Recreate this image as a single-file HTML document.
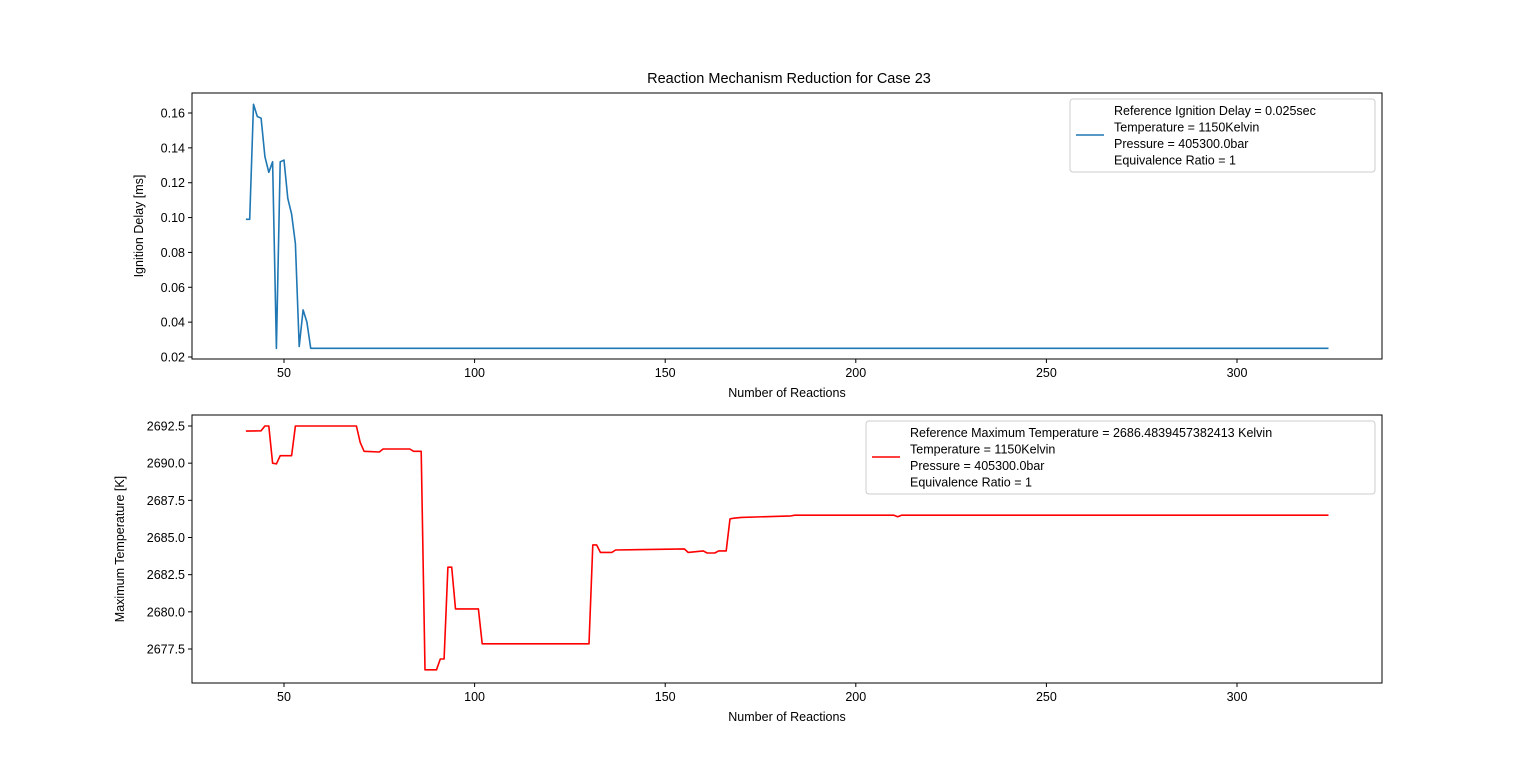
<!DOCTYPE html>
<html><head><meta charset="utf-8"><style>
body{margin:0;background:#fff;}
svg{display:block;font-family:"Liberation Sans","DejaVu Sans",sans-serif;}
</style></head><body>
<svg id="c" width="1536" height="767" viewBox="0 0 1536 767"></svg>
<script>
const xTicks=[50,100,150,200,250,300];
const delayX=[40,41,42,43,44,45,46,47,48,49,50,51,52,53,54,55,56,57,324];
const delayY=[0.099,0.099,0.165,0.158,0.157,0.135,0.126,0.132,0.025,0.132,0.133,0.111,0.102,0.085,0.026,0.047,0.040,0.025,0.025];
const delayTicks=[0.02,0.04,0.06,0.08,0.10,0.12,0.14,0.16];
const tempX=[40,44,45,46,47,48,49,52,53,69,70,71,75,76,83,84,86,87,90,91,92,93,94,95,101,102,130,131,132,133,136,137,155,156,160,161,163,164,166,167,168,170,183,184,210,211,212,324];
const tempY=[2692.16,2692.18,2692.5,2692.5,2690.0,2689.95,2690.5,2690.5,2692.5,2692.5,2691.4,2690.8,2690.75,2690.95,2690.95,2690.8,2690.8,2676.1,2676.1,2676.83,2676.83,2683.0,2683.0,2680.2,2680.2,2677.85,2677.85,2684.5,2684.5,2684.0,2684.0,2684.16,2684.23,2684.0,2684.1,2683.96,2683.96,2684.1,2684.1,2686.25,2686.3,2686.35,2686.45,2686.5,2686.5,2686.4,2686.5,2686.5];
const tempTicks=[2677.5,2680.0,2682.5,2685.0,2687.5,2690.0,2692.5];

const svg=document.getElementById('c');
const NS='http://www.w3.org/2000/svg';
function mk(tag,attrs,parent){const e=document.createElementNS(NS,tag);for(const k in attrs)e.setAttribute(k,attrs[k]);(parent||svg).appendChild(e);return e;}
const X=v=>284+(v-50)*(1237-284)/250;

function panel(top,bot,yv0,py0,yv1,py1,ticks,fmt,xs,ys,color,ylabel,legendLines,lg,name){
  const Y=v=>py0+(v-yv0)*(py1-py0)/(yv1-yv0);
  const g=mk('g',{});
  
  
  const frame=mk('rect',{x:192,y:top,width:1190,height:bot-top,fill:'none',stroke:'#000','stroke-width':1},g);
  
  
  xTicks.forEach(t=>{
    mk('line',{x1:X(t),x2:X(t),y1:bot,y2:bot+4,stroke:'#000'},g);
    const tx=mk('text',{x:X(t),y:bot+18,'text-anchor':'middle','font-size':12.5},g);
    tx.textContent=t;
    
    
  });
  ticks.forEach(t=>{
    mk('line',{x1:188,x2:192,y1:Y(t),y2:Y(t),stroke:'#000'},g);
    const tx=mk('text',{x:185,y:Y(t)+4.5,'text-anchor':'end','font-size':12.5},g);
    tx.textContent=fmt(t);
    
    
  });
  const xl=mk('text',{x:787,y:bot+38,'text-anchor':'middle','font-size':12.5},g);
  xl.textContent='Number of Reactions';
  
  
  const cy=(top+bot)/2;
  const yl=mk('text',{x:lg.yx,y:cy,'text-anchor':'middle','font-size':12.5,transform:`rotate(-90 ${lg.yx} ${cy})`},g);
  yl.textContent=ylabel;
  
  
  const pts=xs.map((x,i)=>X(x).toFixed(1)+','+Y(ys[i]).toFixed(1)).join(' ');
  const line=mk('polyline',{points:pts,fill:'none',stroke:color,'stroke-width':1.6,'stroke-linejoin':'round'},g);
  
  
  const leg=mk('g',{},g);
  
  
  mk('rect',{x:lg.x,y:top+6,width:1375-lg.x,height:73,rx:3,fill:'#fff',stroke:'#ccc'},leg);
  mk('line',{x1:lg.x+6,x2:lg.x+34,y1:top+42,y2:top+42,stroke:color,'stroke-width':1.6},leg);
  legendLines.forEach((s,i)=>{
    const t=mk('text',{x:lg.x+44,y:top+22+i*16.5,'font-size':12.5,'xml:space':'preserve'},leg);
    t.textContent=s;
    
    
  });
}
const title=mk('text',{x:789,y:83,'text-anchor':'middle','font-size':14.5});
title.textContent='Reaction Mechanism Reduction for Case 23';



panel(93,359,0.02,357,0.16,113,delayTicks,t=>t.toFixed(2),delayX,delayY,'#1f77b4','Ignition Delay [ms]',
 ['Reference Ignition Delay = 0.025sec',' Temperature = 1150Kelvin',' Pressure = 405300.0bar',' Equivalence Ratio = 1'],{x:1070,yx:143},'ignition-delay-panel');
panel(415,683,2692.5,426,2677.5,649,tempTicks,t=>t.toFixed(1),tempX,tempY,'#ff0000','Maximum Temperature [K]',
 ['Reference Maximum Temperature = 2686.4839457382413 Kelvin',' Temperature = 1150Kelvin',' Pressure = 405300.0bar',' Equivalence Ratio = 1'],{x:866,yx:124},'max-temperature-panel');
</script>
</body></html>
